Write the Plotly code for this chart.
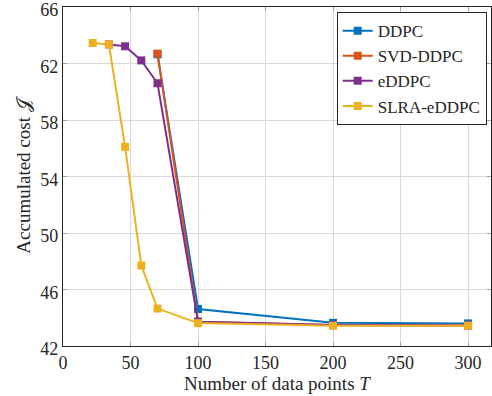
import plotly.graph_objects as go

T_ddpc = [70, 100, 200, 300]
J_ddpc = [62.65, 44.62, 43.64, 43.60]
T_svd = [70, 100, 200, 300]
J_svd = [62.70, 43.72, 43.48, 43.46]
T_edd = [34, 46, 58, 70, 100, 200, 300]
J_edd = [63.35, 63.22, 62.22, 60.60, 43.72, 43.48, 43.46]
T_slra = [22, 34, 46, 58, 70, 100, 200, 300]
J_slra = [63.45, 63.35, 56.10, 47.70, 44.65, 43.62, 43.44, 43.44]

colors = ["#0072BD", "#D95319", "#7E2F8E", "#EDB120"]
series = [("DDPC", T_ddpc, J_ddpc), ("SVD-DDPC", T_svd, J_svd),
          ("eDDPC", T_edd, J_edd), ("SLRA-eDDPC", T_slra, J_slra)]

fig = go.Figure()
for (name, x, y), c in zip(series, colors):
    fig.add_trace(go.Scatter(x=x, y=y, name=name, mode="lines+markers",
                             line=dict(color=c, width=2),
                             marker=dict(symbol="square", size=8, color=c)))

font = "Liberation Serif"
axis_common = dict(showline=True, linecolor="#262626", linewidth=1.2, mirror="ticks",
                   showgrid=True, gridcolor="#d9d9d9", gridwidth=1,
                   ticks="inside", ticklen=4, tickcolor="#a0a0a0",
                   tickfont=dict(family=font, size=18, color="#262626"),
                   zeroline=False, automargin=False, ticklabeloverflow="allow")

fig.update_layout(
    width=492, height=396,
    margin=dict(l=63, r=1, t=7, b=50),
    paper_bgcolor="white", plot_bgcolor="white",
    font=dict(family=font, color="#262626"),
    xaxis=dict(range=[0, 317], tickvals=[0, 50, 100, 150, 200, 250, 300],
               title=dict(text="Number of data points <i>T</i>", font=dict(family=font, size=19), standoff=2),
               **axis_common),
    yaxis=dict(range=[42, 66], tickvals=[42, 46, 50, 54, 58, 62, 66], ticklabelshift=3,
               title=dict(text="Accumulated cost 𝒥", font=dict(family=font, size=19), standoff=4),
               **axis_common),
    legend=dict(x=0.99, y=0.985, xanchor="right", yanchor="top",
                bordercolor="#262626", borderwidth=1, bgcolor="white",
                font=dict(family=font, size=17), tracegroupgap=0, itemwidth=30),
    showlegend=True,
)

fig.write_html("out.html", config={"displayModeBar": False},
               post_script="document.body.style.margin='0';")
